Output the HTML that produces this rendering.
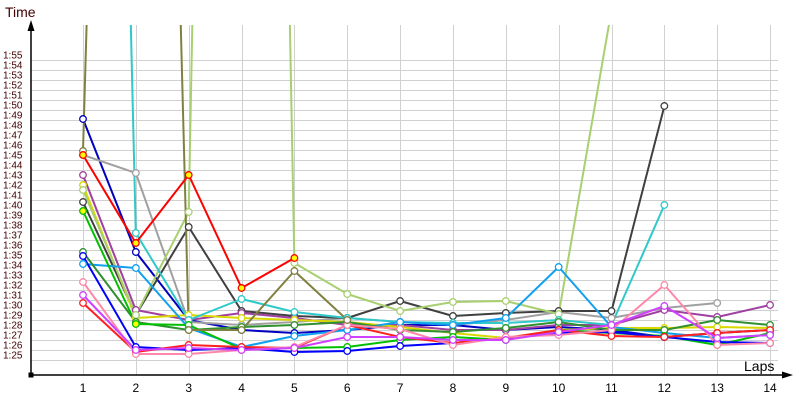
<!DOCTYPE html>
<html><head><meta charset="utf-8"><style>
body{margin:0;background:#fff;}
svg{display:block;font-family:"Liberation Sans",sans-serif;}
</style></head><body>
<svg id="c" width="800" height="400" xmlns="http://www.w3.org/2000/svg">
<defs><clipPath id="pc"><rect x="31" y="25" width="760" height="350"/></clipPath></defs>
<g id="grid" stroke="#d0d0d0" stroke-width="1"></g>
<g id="series" clip-path="url(#pc)" fill="none" stroke-width="2" stroke-linejoin="round"></g>
<g id="marks"></g>
<line x1="31" y1="375" x2="31" y2="28" stroke="#000" stroke-width="1.5"/>
<polygon points="31,20 27.5,31 34.5,31" fill="#000"/>
<line x1="31" y1="375" x2="785" y2="375" stroke="#000" stroke-width="1.5"/>
<polygon points="793,375 782,371.5 782,378.5" fill="#000"/>
<rect x="28.5" y="372.5" width="5" height="5" fill="#000"/>
<text x="5" y="17" font-size="14" fill="#400000">Time</text>
<text x="744" y="371" font-size="14" fill="#000">Laps</text>
<g id="lbl" font-size="10" fill="#400000"></g>
<g id="xl" font-size="12" fill="#000" text-anchor="middle"></g>
</svg>
<script>
var ns="http://www.w3.org/2000/svg";
function el(p,t,a,txt){var e=document.createElementNS(ns,t);for(var k in a)e.setAttribute(k,a[k]);if(txt!=null)e.textContent=txt;document.getElementById(p).appendChild(e);return e;}
function X(n){return 83+52.85*(n-1);}
for(var y=60;y<=360;y+=10)el("grid","line",{x1:31,x2:778,y1:y+0.5,y2:y+0.5});
for(var n=1;n<=14;n++){el("grid","line",{x1:Math.round(X(n))+0.5,x2:Math.round(X(n))+0.5,y1:25,y2:375});el("xl","text",{x:X(n),y:392},n);}
for(var s=55;s>=25;s--){el("lbl","text",{x:3,y:55+(55-s)*10+3.5},"1:"+s);}
var S=[
["#0000c0",[119,252,320,330,333,330,325,325,330,327,330,337,333,330]],
["#a0a0a0",[155,173,322,325,322,318,322,325,320,312,318,308,303]],
["#404040",[202,315,227,311,316,318,301,316,313,311,311,106]],
["#a040a0",[175,310,320,313,318,325,325,330,330,325,325,310,317,305]],
["#d8d800",[185,318,315,318,320,322,327,333,338,330,328,328,327,328]],
["#a8d070",[190,315,212,-2530,263,294,311,302,301,314,10]],
["#30c8c8",[-1970,233,320,299,312,318,322,323,323,320,325,205]],
["#10a0f0",[264,268,328,347,336,330,322,325,318,267,327,333,338,335]],
["#309030",[252,322,330,327,325,322,330,332,328,322,330,330,320,325]],
["#00c000",[211,324,325,349,348,347,340,337,340,330,333,336,345,333]],
["#0000ff",[256,347,350,348,352,351,346,343,338,333,332,337,342,343]],
["#ff2020",[303,352,345,347,348,325,337,343,338,330,336,337,333,330]],
["#ff88aa",[282,354,354,350,347,325,329,345,337,335,330,285,345,343]],
["#d040ff",[295,350,348,350,348,337,337,340,340,332,325,306,338,335]],
["#808040",[151,-1700,330,330,271,320]],
["#ff0000",[155,243,175,288,258]]
];
S.forEach(function(sr){
 var c=sr[0],v=sr[1],pts=v.map(function(y,i){return X(i+1).toFixed(1)+","+y;}).join(" ");
 el("series","polyline",{points:pts,stroke:c});
});
S.forEach(function(sr){
 var c=sr[0],v=sr[1];
 v.forEach(function(y,i){ if(y<25||y>375)return;
  var f="#fff"; if(c=="#ff0000"||(c=="#00c000"&&i<2))f="#ffff00";
  el("marks","circle",{cx:X(i+1),cy:y,r:3.3,fill:f,stroke:c,"stroke-width":1.3});
 });
});
</script>
</body></html>
